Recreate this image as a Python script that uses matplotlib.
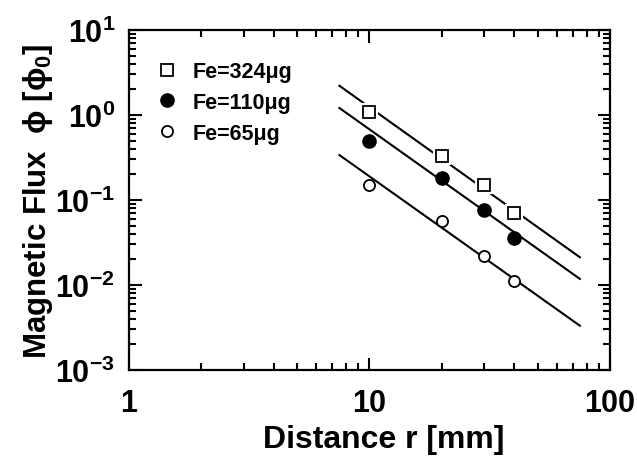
import numpy as np
import matplotlib
matplotlib.use('Agg')
import matplotlib.pyplot as plt
from matplotlib.ticker import LogLocator, NullFormatter, FixedLocator

# data
distance = [10, 20, 30, 40]
fe_324 = [1.08, 0.33, 0.151, 0.070]
fe_110 = [0.50, 0.18, 0.076, 0.036]
fe_65 = [0.151, 0.056, 0.022, 0.0111]

# fitted lines (end values)
fit_x = [7.5, 75]
fit_324 = [2.21, 0.0212]
fit_110 = [1.21, 0.0118]
fit_65 = [0.338, 0.00332]

plt.rcParams['font.family'] = ['Liberation Sans', 'DejaVu Sans']
plt.rcParams['font.weight'] = 'bold'
plt.rcParams['mathtext.fontset'] = 'custom'
plt.rcParams['mathtext.rm'] = 'Liberation Sans:bold'
plt.rcParams['mathtext.bf'] = 'Liberation Sans:bold'
plt.rcParams['mathtext.it'] = 'Liberation Sans:bold'

fig = plt.figure(figsize=(6.37, 4.6), dpi=100)
ax = fig.add_axes([0.2025, 0.1935, 0.755, 0.739])

# fit lines
for fy in [fit_324, fit_110, fit_65]:
    ax.plot(fit_x, fy, color='black', lw=1.5, zorder=2)

# data points (white halo under squares to break the line)
ax.plot(distance, fe_324, 's', ms=10.5, mfc='white', mec='white', mew=3, zorder=3)
ax.plot(distance, fe_324, 's', ms=8.5, mfc='white', mec='black', mew=1.3, zorder=4,
        label='Fe=324\u03bcg')
ax.plot(distance, fe_110, 'o', ms=9.5, mfc='black', mec='black', zorder=4,
        label='Fe=110\u03bcg')
ax.plot(distance, fe_65, 'o', ms=8, mfc='white', mec='black', mew=1.3, zorder=4,
        label='Fe=65\u03bcg')

ax.set_xscale('log')
ax.set_yscale('log')
ax.set_xlim(1, 100)
ax.set_ylim(1e-3, 10)

ax.xaxis.set_major_locator(FixedLocator([1, 10, 100]))
ax.set_xticklabels(['1', '10', '100'])
ax.yaxis.set_major_locator(FixedLocator([1e-3, 1e-2, 1e-1, 1, 10]))
ax.set_yticklabels([r'$\mathbf{10^{-3}}$', r'$\mathbf{10^{-2}}$', r'$\mathbf{10^{-1}}$',
                    r'$\mathbf{10^{0}}$', r'$\mathbf{10^{1}}$'])
ax.xaxis.set_minor_locator(LogLocator(base=10, subs=np.arange(2, 10)))
ax.yaxis.set_minor_locator(LogLocator(base=10, subs=np.arange(2, 10), numticks=20))
ax.xaxis.set_minor_formatter(NullFormatter())
ax.yaxis.set_minor_formatter(NullFormatter())

ax.tick_params(which='both', direction='in', top=True, right=True, width=1.5)
ax.tick_params(which='major', length=9, labelsize=22)
ax.tick_params(axis='y', which='major', pad=10)
ax.tick_params(axis='x', which='major', pad=13)
ax.tick_params(which='minor', length=5)
for s in ax.spines.values():
    s.set_linewidth(1.6)

ax.set_xlabel('Distance r [mm]', fontsize=23, fontweight='bold')
ax.xaxis.set_label_coords(0.53, -0.158)
ax.set_ylabel('Magnetic Flux  \u03d5 [\u03d5$_0$]', fontsize=22.5, fontweight='bold', labelpad=0)

leg = ax.legend(loc='upper left', bbox_to_anchor=(0.02, 0.965), frameon=False,
                handlelength=0.8, handletextpad=0.8, labelspacing=0.45,
                prop={'weight': 'bold', 'size': 15.5})

fig.savefig('out.png', dpi=100)
